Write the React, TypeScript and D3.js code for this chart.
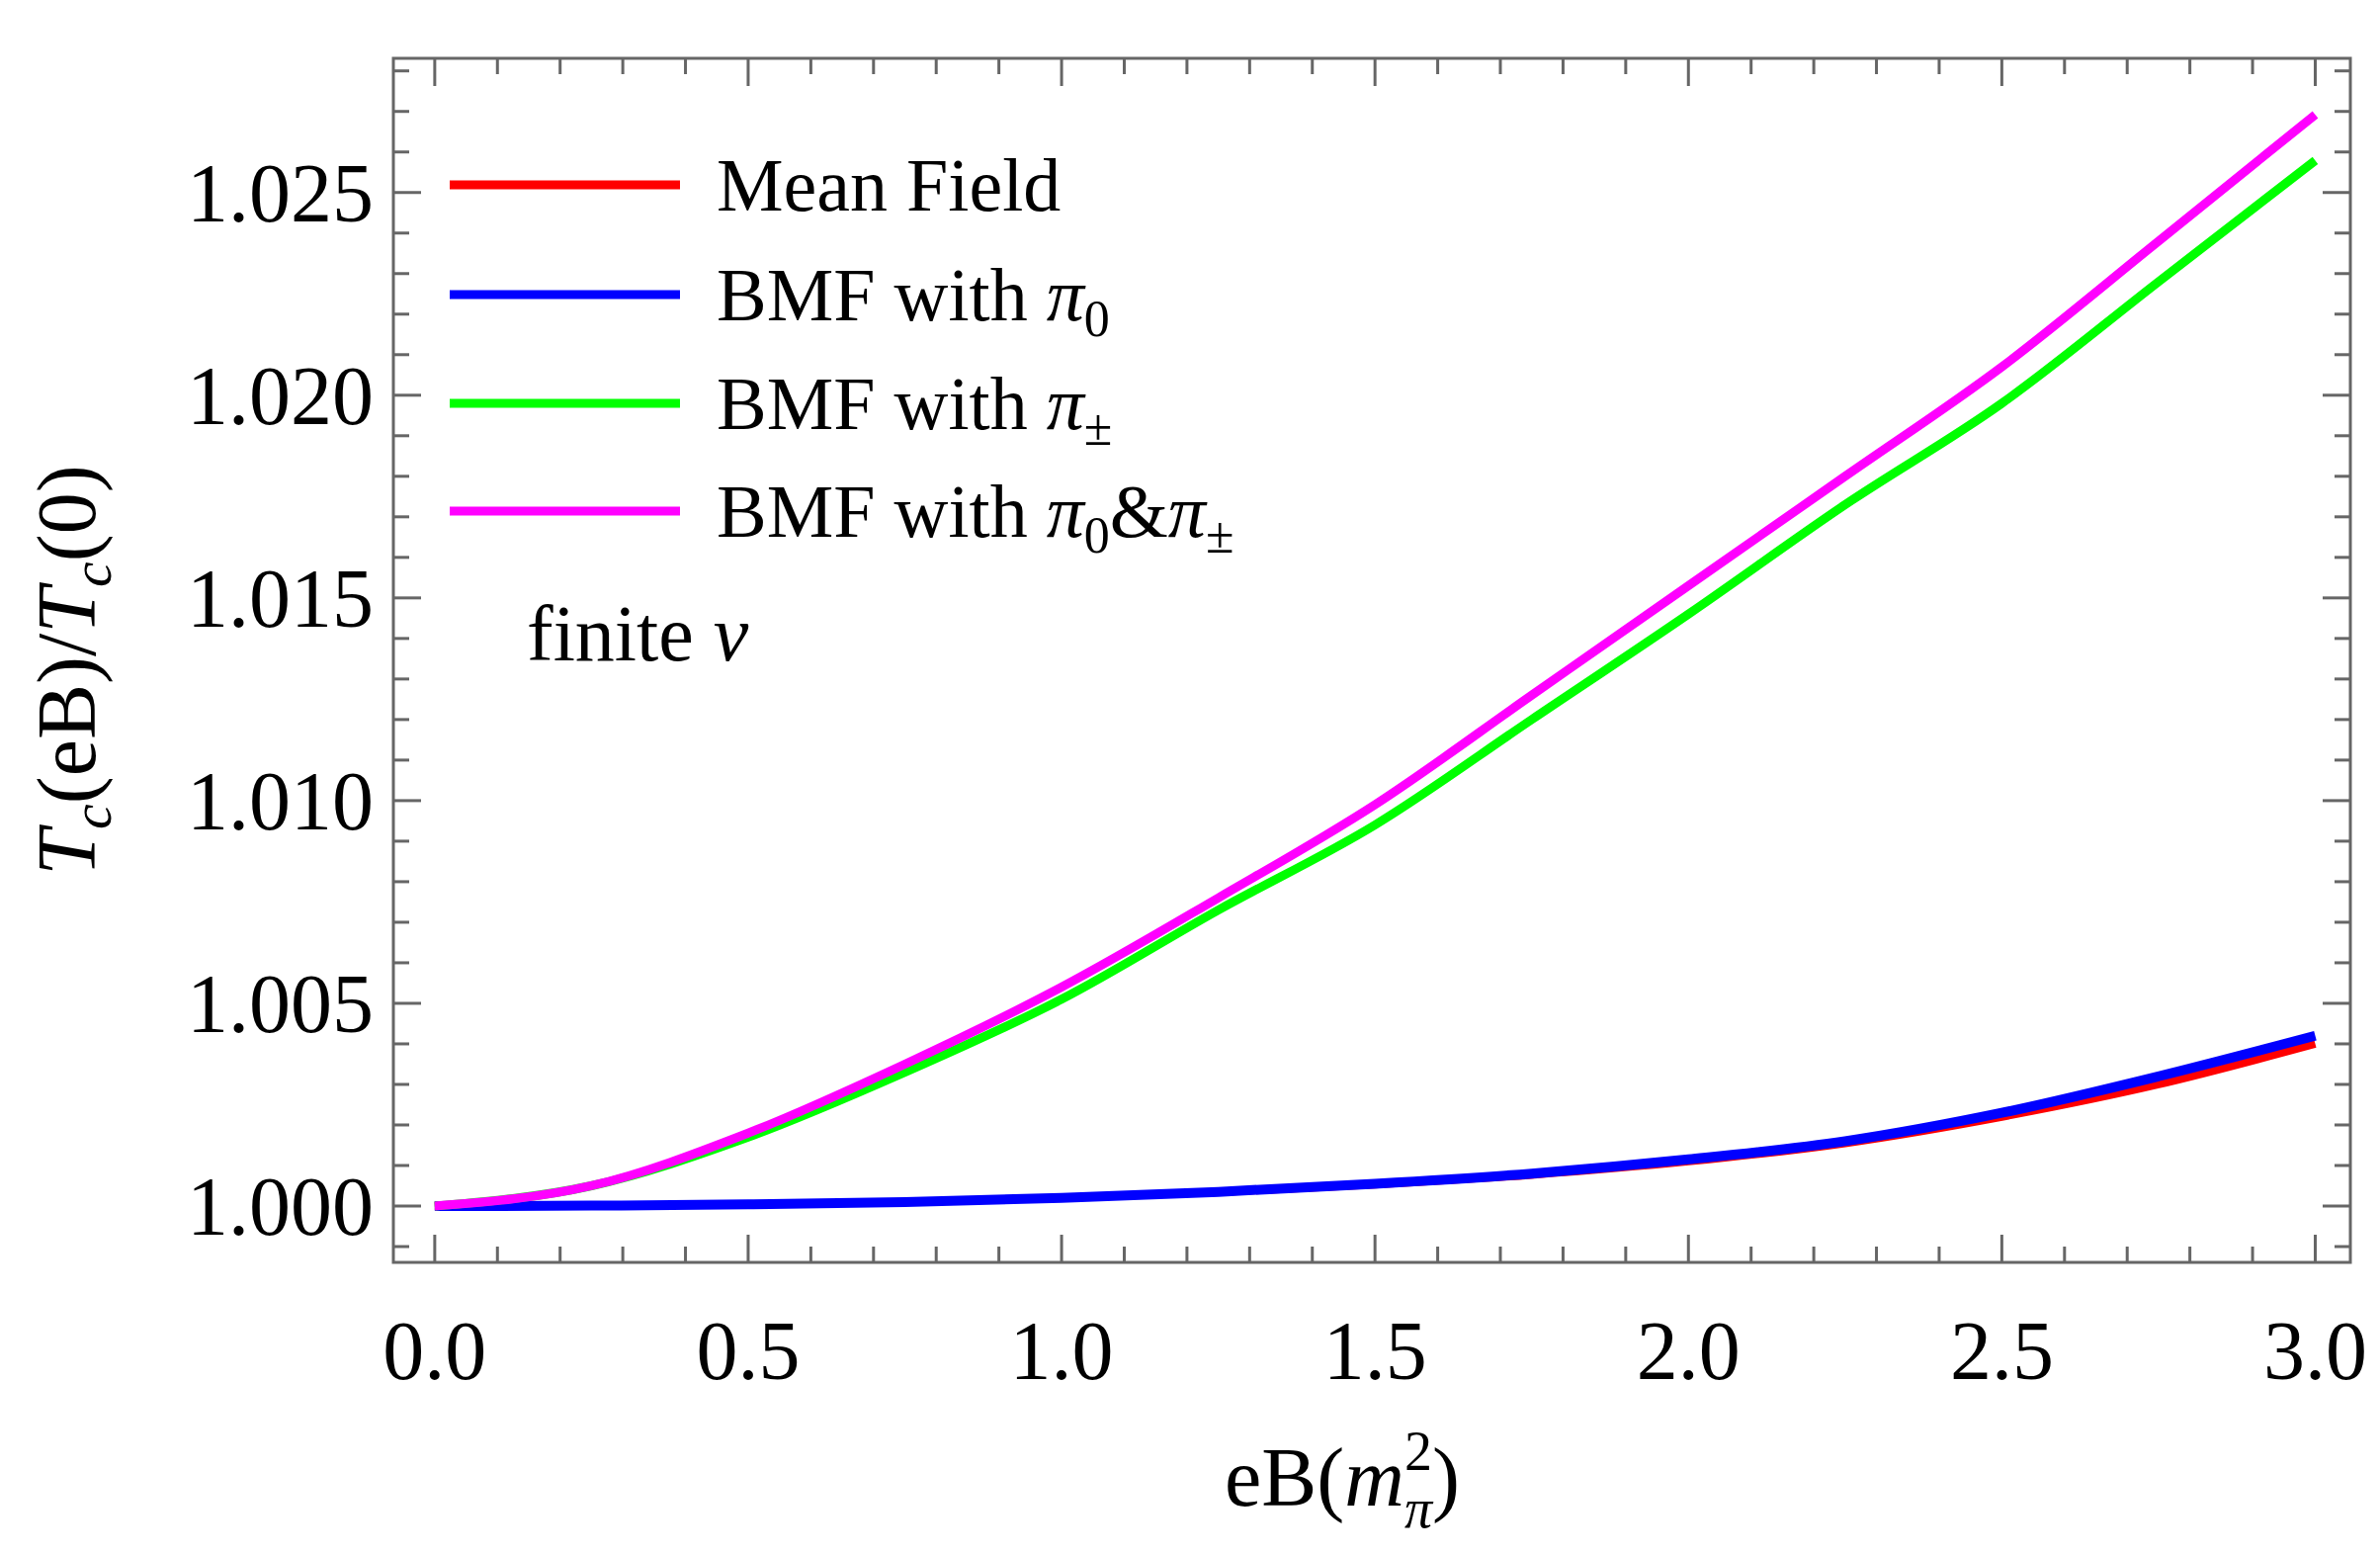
import * as d3 from 'd3'
import { useEffect, useRef } from 'react'

const W = 2408, H = 1573
const margin = { top: 51, bottom: H - 1269, left: 390, right: W - 2370 }

const xs = [0, 0.25, 0.5, 0.75, 1.0, 1.25, 1.5, 1.75, 2.0, 2.25, 2.5, 2.75, 3.0]
const meanField = [1, 1.00001, 1.00004, 1.0001, 1.0002, 1.00034, 1.00053, 1.00077, 1.0011, 1.00155, 1.0022, 1.003, 1.0040]
const bmfPi0 = [1, 1.00001, 1.00004, 1.0001, 1.0002, 1.00035, 1.00055, 1.0008, 1.00115, 1.0016, 1.0023, 1.0032, 1.0042]
const bmfPipm = [1, 1.0005, 1.0017, 1.0033, 1.0051, 1.0073, 1.0094, 1.0120, 1.0146, 1.0173, 1.0198, 1.0228, 1.02579]
const bmfBoth = [1, 1.0005, 1.0018, 1.0035, 1.0054, 1.0076, 1.0099, 1.0126, 1.0153, 1.0180, 1.0207, 1.0238, 1.02692]

const series = [
    { name: 'Mean Field', color: '#ff0000', values: meanField, width: 8 },
    { name: 'BMF with π0', color: '#0000ff', values: bmfPi0, width: 10 },
    { name: 'BMF with π±', color: '#00ff00', values: bmfPipm, width: 9 },
    { name: 'BMF with π0&π±', color: '#ff00ff', values: bmfBoth, width: 9 },
]

export default function App() {
    const ref = useRef<SVGSVGElement>(null)

    useEffect(() => {
        const svg = d3.select(ref.current)
        svg.selectAll('*').remove()
        const x = d3.scaleLinear().domain([-0.066, 3.056]).range([margin.left, W - margin.right])
        const y = d3.scaleLinear().domain([0.99861, 1.02831]).range([H - margin.bottom, margin.top])
        const font = 'Liberation Serif, Times New Roman, serif'
        const axisColor = '#666'
        const x0 = margin.left, x1 = W - margin.right, y0 = margin.top, y1 = H - margin.bottom

        const lineGen = d3.line<number>()
            .x((_, i) => x(xs[i]))
            .y(d => y(d))
            .curve(d3.curveMonotoneX)

        series.forEach(s => {
            svg.append('path')
                .attr('d', lineGen(s.values))
                .attr('fill', 'none')
                .attr('stroke', s.color)
                .attr('stroke-width', s.width)
        })

        // frame
        svg.append('rect')
            .attr('x', x0).attr('y', y0).attr('width', x1 - x0).attr('height', y1 - y0)
            .attr('fill', 'none').attr('stroke', axisColor).attr('stroke-width', 3)

        // x ticks
        for (let i = 0; i <= 30; i++) {
            const v = i / 10
            const len = i % 5 === 0 ? 28 : 16
            const px = x(v)
            svg.append('line').attr('x1', px).attr('x2', px).attr('y1', y1).attr('y2', y1 - len)
                .attr('stroke', axisColor).attr('stroke-width', 3)
            svg.append('line').attr('x1', px).attr('x2', px).attr('y1', y0).attr('y2', y0 + len)
                .attr('stroke', axisColor).attr('stroke-width', 3)
            if (i % 5 === 0) {
                svg.append('text').attr('x', px).attr('y', y1 + 118)
                    .attr('text-anchor', 'middle').attr('font-family', font).attr('font-size', 84)
                    .text(d3.format('.1f')(v))
            }
        }
        // y ticks
        for (let i = -1; i <= 28; i++) {
            const v = 1 + i * 0.001
            const len = i % 5 === 0 ? 28 : 16
            const py = y(v)
            svg.append('line').attr('x1', x0).attr('x2', x0 + len).attr('y1', py).attr('y2', py)
                .attr('stroke', axisColor).attr('stroke-width', 3)
            svg.append('line').attr('x1', x1).attr('x2', x1 - len).attr('y1', py).attr('y2', py)
                .attr('stroke', axisColor).attr('stroke-width', 3)
            if (i % 5 === 0 && i >= 0) {
                svg.append('text').attr('x', x0 - 20).attr('y', py + 29)
                    .attr('text-anchor', 'end').attr('font-family', font).attr('font-size', 84)
                    .text(d3.format('.3f')(v))
            }
        }

        // legend
        const legY = [179, 290, 400, 509]
        const legendLabels = ['Mean Field', 'BMF with ', 'BMF with ', 'BMF with ']
        series.forEach((s, i) => {
            svg.append('line').attr('x1', 447).attr('x2', 680).attr('y1', legY[i]).attr('y2', legY[i])
                .attr('stroke', s.color).attr('stroke-width', 9)
            const t = svg.append('text').attr('x', 717).attr('y', legY[i] + 26)
                .attr('font-family', font).attr('font-size', 76)
            t.append('tspan').text(legendLabels[i])
            if (i > 0) {
                t.append('tspan').attr('font-style', 'italic').text('π')
                t.append('tspan').attr('font-size', 52).attr('dy', 16).text(i === 2 ? '±' : '0')
                if (i === 3) {
                    t.append('tspan').attr('dy', -16).text('&')
                    t.append('tspan').attr('font-style', 'italic').text('π')
                    t.append('tspan').attr('font-size', 52).attr('dy', 16).text('±')
                }
            }
        })
        const fv = svg.append('text').attr('x', 525).attr('y', 660)
            .attr('font-family', font).attr('font-size', 80)
        fv.append('tspan').text('finite ')
        fv.append('tspan').attr('font-style', 'italic').text('ν')

        // x label
        const xl = svg.append('text').attr('x', (x0 + x1) / 2 - 30).attr('y', 1515)
            .attr('text-anchor', 'middle').attr('font-family', font).attr('font-size', 84)
        xl.append('tspan').text('eB(')
        xl.append('tspan').attr('font-style', 'italic').text('m')
        xl.append('tspan').attr('font-size', 56).attr('dy', -36).text('2')
        xl.append('tspan').attr('font-size', 56).attr('font-style', 'italic').attr('dx', -28).attr('dy', 58).text('π')
        xl.append('tspan').attr('dy', -22).text(')')

        // y label
        const yl = svg.append('text')
            .attr('transform', `translate(88, ${(y0 + y1) / 2 + 10}) rotate(-90)`)
            .attr('text-anchor', 'middle').attr('font-family', font).attr('font-size', 84)
        yl.append('tspan').attr('font-style', 'italic').text('T')
        yl.append('tspan').attr('font-style', 'italic').attr('font-size', 58).attr('dy', 16).text('c')
        yl.append('tspan').attr('dy', -16).text('(eB)/')
        yl.append('tspan').attr('font-style', 'italic').text('T')
        yl.append('tspan').attr('font-style', 'italic').attr('font-size', 58).attr('dy', 16).text('c')
        yl.append('tspan').attr('dy', -16).text('(0)')
    }, [])

    return (
        <svg ref={ref} width={W} height={H} style={{ display: 'block', background: '#fff' }} />
    )
}
